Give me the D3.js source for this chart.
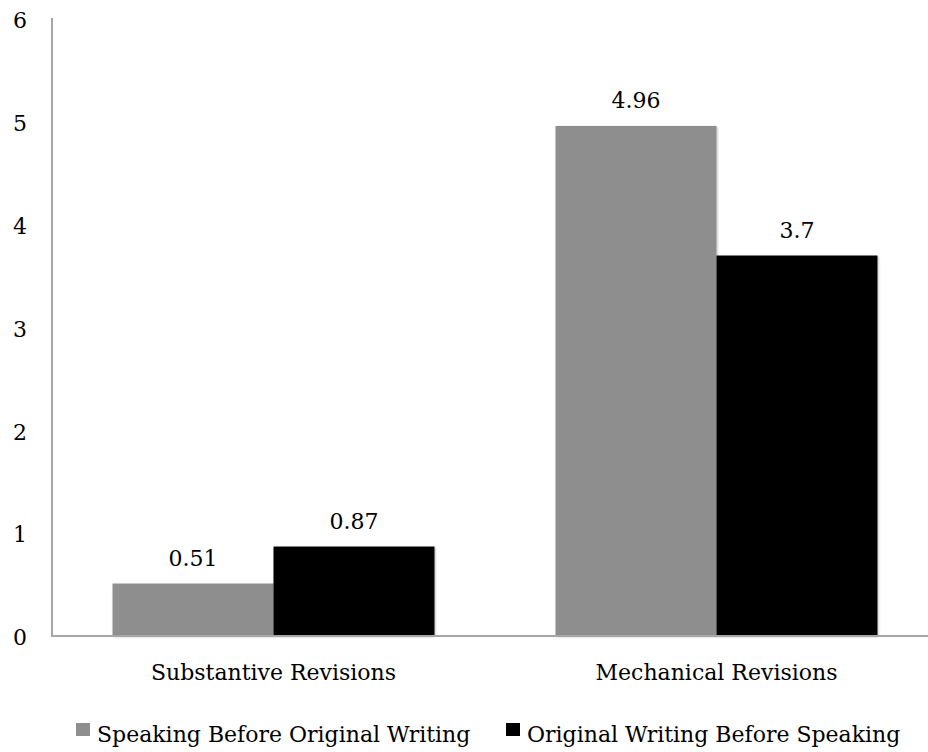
<!DOCTYPE html>
<html>
<head>
<meta charset="utf-8">
<script src="https://cdn.jsdelivr.net/npm/d3@7"></script>
<style>
  body { margin: 0; background: #fff; }
  svg text { font-family: "DejaVu Serif", serif; fill: #000; }
</style>
</head>
<body>
<div id="corpo"></div>
<script>
var categories = ["Substantive Revisions", "Mechanical Revisions"];
var seriesNames = ["Speaking Before Original Writing", "Original Writing Before Speaking"];
var speakingFirst = [0.51, 4.96];
var writingFirst = [0.87, 3.7];
var yTicks = [0, 1, 2, 3, 4, 5, 6];

var width = 928, height = 752;
var mLeft = 52, mTop = 19, mBottom = 636, mRight = 938;

var data = categories.map(function(c, i) {
    return { cat: c, values: [
        { serie: seriesNames[0], valor: speakingFirst[i] },
        { serie: seriesNames[1], valor: writingFirst[i] }
    ]};
});

function color(serie) {
    var colors = {};
    colors[seriesNames[0]] = "#8e8e8e";
    colors[seriesNames[1]] = "#000000";
    return colors[serie];
}

var svg = d3.select("#corpo").append("svg")
    .attr("width", width)
    .attr("height", height);

var defs = svg.append("defs");
var f = defs.append("filter").attr("id", "sombra").attr("x", "-5%").attr("y", "-5%").attr("width", "115%").attr("height", "115%");
f.append("feDropShadow").attr("dx", 1).attr("dy", 1).attr("stdDeviation", 1.2).attr("flood-color", "#000").attr("flood-opacity", 0.25);

var y = d3.scaleLinear().domain([0, 6]).range([mBottom, mTop]);
var x0 = d3.scaleBand().domain(categories).range([mLeft, mRight]).padding(0);
var x1 = d3.scaleBand().domain(seriesNames).range([0, x0.bandwidth()]).paddingInner(0).paddingOuter(0.376);

// eixo y
var yAxis = svg.append("g")
    .attr("transform", "translate(" + mLeft + ",0)")
    .call(d3.axisLeft(y).tickValues(yTicks).tickSize(0).tickPadding(0).tickFormat(d3.format("d")));
yAxis.select(".domain").remove();
yAxis.selectAll("text")
    .attr("x", -32)
    .attr("dy", "0.4em")
    .attr("text-anchor", "middle")
    .style("font-size", "22px")
    .style("font-family", "DejaVu Serif, serif");

var g = svg.selectAll(".grupo")
    .data(data)
    .enter().append("g")
    .attr("class", "grupo")
    .attr("transform", function(d) { return "translate(" + x0(d.cat) + ",0)"; });

g.selectAll("rect")
    .data(function(d) { return d.values; })
    .enter().append("rect")
    .attr("x", function(d) { return x1(d.serie); })
    .attr("y", function(d) { return y(d.valor); })
    .attr("width", x1.bandwidth())
    .attr("height", function(d) { return mBottom - y(d.valor); })
    .attr("filter", "url(#sombra)")
    .style("fill", function(d) { return color(d.serie); });

g.selectAll(".valor")
    .data(function(d) { return d.values; })
    .enter().append("text")
    .attr("class", "valor")
    .attr("x", function(d) { return x1(d.serie) + x1.bandwidth() / 2; })
    .attr("y", function(d) { return y(d.valor) - 18; })
    .attr("text-anchor", "middle")
    .style("font-size", "22px")
    .text(function(d) { return d.valor; });

// linhas dos eixos
svg.append("line")
    .attr("x1", mLeft).attr("x2", mLeft)
    .attr("y1", mTop - 1).attr("y2", mBottom + 1)
    .style("stroke", "#a6a6a6").style("stroke-width", 2);
svg.append("line")
    .attr("x1", mLeft - 1).attr("x2", width)
    .attr("y1", mBottom).attr("y2", mBottom)
    .style("stroke", "#a6a6a6").style("stroke-width", 2);

// rotulos categorias
var xAxis = svg.append("g")
    .attr("transform", "translate(0," + mBottom + ")")
    .call(d3.axisBottom(x0).tickSize(0).tickPadding(0));
xAxis.select(".domain").remove();
xAxis.selectAll("text")
    .attr("y", 44)
    .attr("dy", 0)
    .style("font-size", "22px")
    .style("font-family", "DejaVu Serif, serif");

// legenda
var legend = svg.append("g").attr("class", "legenda");
var lx = [76, 506];
seriesNames.forEach(function(s, i) {
    legend.append("rect")
        .attr("x", lx[i]).attr("y", 723)
        .attr("width", 14).attr("height", 13)
        .style("fill", color(s));
    legend.append("text")
        .attr("x", lx[i] + 21).attr("y", 742)
        .style("font-size", "22px")
        .text(s);
});
</script>
</body>
</html>
